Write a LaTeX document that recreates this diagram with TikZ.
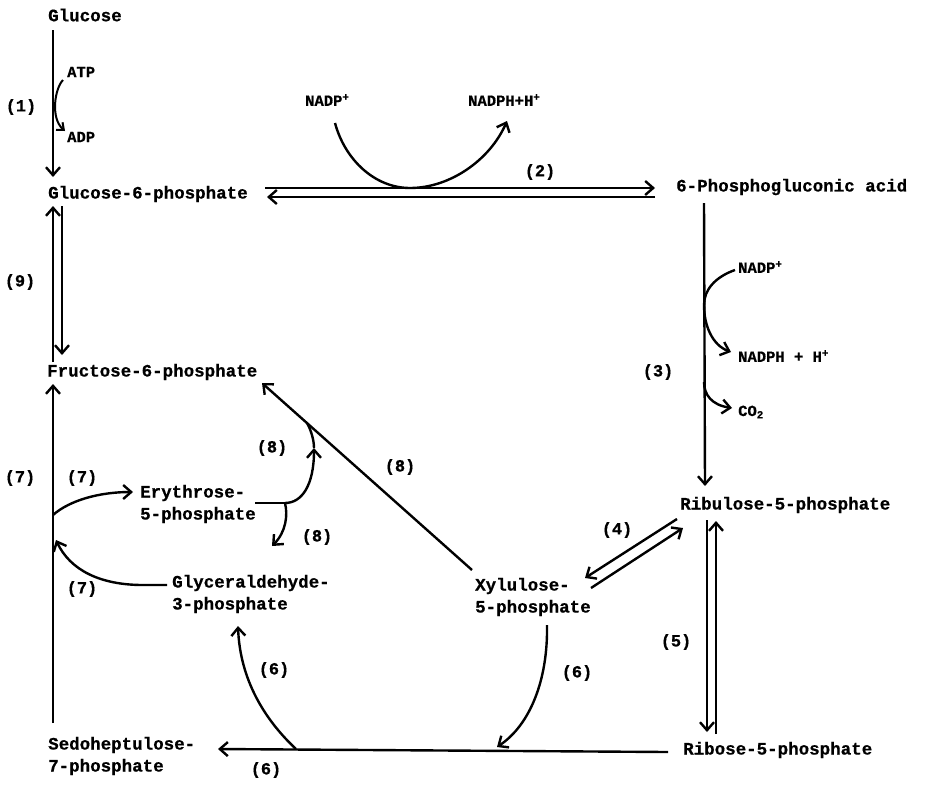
\documentclass[tikz,border=0pt]{standalone}
\usepackage{fontspec}
\newfontfamily\tw{Liberation Mono}[BoldFeatures={FakeBold=0.6}]
\usetikzlibrary{arrows.meta}
\tikzset{
 txt/.style={anchor=west, inner sep=0pt, font=\tw\bfseries\fontsize{17.5}{22}\selectfont, align=left},
 sml/.style={anchor=west, inner sep=0pt, font=\tw\bfseries\fontsize{15.5}{18}\selectfont},
 lbl/.style={inner sep=0pt, font=\tw\bfseries\fontsize{17}{18}\selectfont},
 ln/.style={line width=2.4pt},
 arr/.style={line width=2.4pt, -{Straight Barb[length=8pt,width=14pt]}},
 sarr/.style={line width=2pt, -{Straight Barb[length=6pt,width=10pt]}},
}
\begin{document}
\begin{tikzpicture}[x=1pt,y=-1pt]
\fill[white] (0,0) rectangle (928,788);
\useasboundingbox (0,0) rectangle (928,788);
% metabolites
\node[txt] (glu)  at (48,15)  {Glucose};
\node[txt] (g6p)  at (48,194) {Glucose-6-phosphate};
\node[txt] (pga)  at (676,187) {6-Phosphogluconic acid};
\node[txt] (f6p)  at (47,372) {Fructose-6-phosphate};
\node[txt] (ru5p) at (680,505) {Ribulose-5-phosphate};
\node[txt] (e4p)  at (140,504) {Erythrose-\\5-phosphate};
\node[txt] (gap)  at (172,594) {Glyceraldehyde-\\3-phosphate};
\node[txt] (xu5p) at (475,597) {Xylulose-\\5-phosphate};
\node[txt] (s7p)  at (48,756) {Sedoheptulose-\\7-phosphate};
\node[txt] (r5p)  at (683,750) {Ribose-5-phosphate};
% cofactors
\node[sml] (atp)   at (67,72)  {ATP};
\node[sml] (adp)   at (67,137) {ADP};
\node[sml] (nadpa) at (305,100) {NADP\textsuperscript{+}};
\node[sml] (nadpha) at (468,100) {NADPH+H\textsuperscript{+}};
\node[sml] (nadpb) at (738,267) {NADP\textsuperscript{+}};
\node[sml] (nadphb) at (738,356) {NADPH + H\textsuperscript{+}};
\node[sml] (co2)   at (738,412) {CO\textsubscript{2}};
% reaction labels
\node[lbl] (l1)  at (21,107) {(1)};
\node[lbl] (l2)  at (540,172) {(2)};
\node[lbl] (l3)  at (658,372) {(3)};
\node[lbl] (l4)  at (617,530) {(4)};
\node[lbl] (l5)  at (676,642) {(5)};
\node[lbl] (l6a) at (577,673) {(6)};
\node[lbl] (l6b) at (274,670) {(6)};
\node[lbl] (l6c) at (266,770) {(6)};
\node[lbl] (l7a) at (20,478) {(7)};
\node[lbl] (l7b) at (82,478) {(7)};
\node[lbl] (l7c) at (82,589) {(7)};
\node[lbl] (l8a) at (272,448) {(8)};
\node[lbl] (l8b) at (400,467) {(8)};
\node[lbl] (l8c) at (317,537) {(8)};
\node[lbl] (l9)  at (20,282) {(9)};
% coordinates
\coordinate (a1s) at (53,30);   \coordinate (a1e) at (53,177);
\coordinate (atpS) at (63,80);  \coordinate (adpE) at (65,131);
\coordinate (u2s) at (265,188); \coordinate (u2e) at (655,188);
\coordinate (d2s) at (655,197); \coordinate (d2e) at (267,197);
\coordinate (n1s) at (335,123); \coordinate (n1m) at (410,188); \coordinate (n1e) at (507,121);
\coordinate (a9u1) at (53,362); \coordinate (a9u2) at (53,206);
\coordinate (a9d1) at (62,206); \coordinate (a9d2) at (62,355);
\coordinate (a3s) at (704,203); \coordinate (a3e) at (705,486);
\coordinate (n2s) at (735,270); \coordinate (n2m) at (704,305); \coordinate (n2e) at (731,352);
\coordinate (c2s) at (704,382); \coordinate (c2e) at (732,408);
\coordinate (a4u1) at (677,519); \coordinate (a4u2) at (585,578);
\coordinate (a4d1) at (591,588); \coordinate (a4d2) at (683,528);
\coordinate (a5d1) at (707,520); \coordinate (a5d2) at (707,732);
\coordinate (a5u1) at (716,734); \coordinate (a5u2) at (716,521);
\coordinate (b6s) at (668,752); \coordinate (b6e) at (218,749);
\coordinate (x6s) at (547,625); \coordinate (x6e) at (497,747);
\coordinate (g6s) at (296,749); \coordinate (g6e) at (238,626);
\coordinate (v7s) at (53,723); \coordinate (v7e) at (53,384);
\coordinate (e7s) at (53,515); \coordinate (e7e) at (133,492);
\coordinate (g7s) at (167,585); \coordinate (g7m) at (143,585); \coordinate (g7e) at (56,540);
\coordinate (d8s) at (472,570); \coordinate (d8e) at (262,383);
\coordinate (b8s) at (255,503); \coordinate (b8m) at (285,503);
\coordinate (b8u) at (314,448); \coordinate (b8j) at (307,423);
\coordinate (b8d) at (272,546);
% (1)
\draw[arr] (a1s) -- (a1e);
\draw[sarr] (atpS) .. controls (55,88) and (50,118) .. (adpE);
% (2)
\draw[arr] (u2s) -- (u2e);
\draw[arr] (d2s) -- (d2e);
\draw[arr] (n1s) .. controls (345,160) and (375,188) .. (n1m) .. controls (450,188) and (490,160) .. (n1e);
% (9)
\draw[arr] (a9u1) -- (a9u2);
\draw[arr] (a9d1) -- (a9d2);
% (3)
\draw[arr] (a3s) -- (a3e);
\draw[arr] (n2s) .. controls (715,277) and (704,290) .. (n2m) .. controls (704,325) and (712,345) .. (n2e);
\draw[arr] (c2s) .. controls (704,395) and (712,405) .. (c2e);
% (4)
\draw[arr] (a4u1) -- (a4u2);
\draw[arr] (a4d1) -- (a4d2);
% (5)
\draw[arr] (a5d1) -- (a5d2);
\draw[arr] (a5u1) -- (a5u2);
% (6)
\draw[arr] (b6s) -- (b6e);
\draw[arr] (x6s) .. controls (548,680) and (530,725) .. (x6e);
\draw[arr] (g6s) .. controls (265,720) and (240,680) .. (g6e);
% (7)
\draw[arr] (v7s) -- (v7e);
\draw[arr] (e7s) .. controls (70,500) and (100,492) .. (e7e);
\draw[arr] (g7s) -- (g7m) .. controls (100,585) and (70,570) .. (g7e);
% (8)
\draw[arr] (d8s) -- (d8e);
\draw[ln] (b8s) -- (b8m);
\draw[arr] (b8m) .. controls (302,503) and (314,485) .. (b8u);
\draw[ln] (b8u) .. controls (314,440) and (311,430) .. (b8j);
\draw[arr] (b8m) .. controls (288,515) and (286,532) .. (b8d);
\end{tikzpicture}
\end{document}
